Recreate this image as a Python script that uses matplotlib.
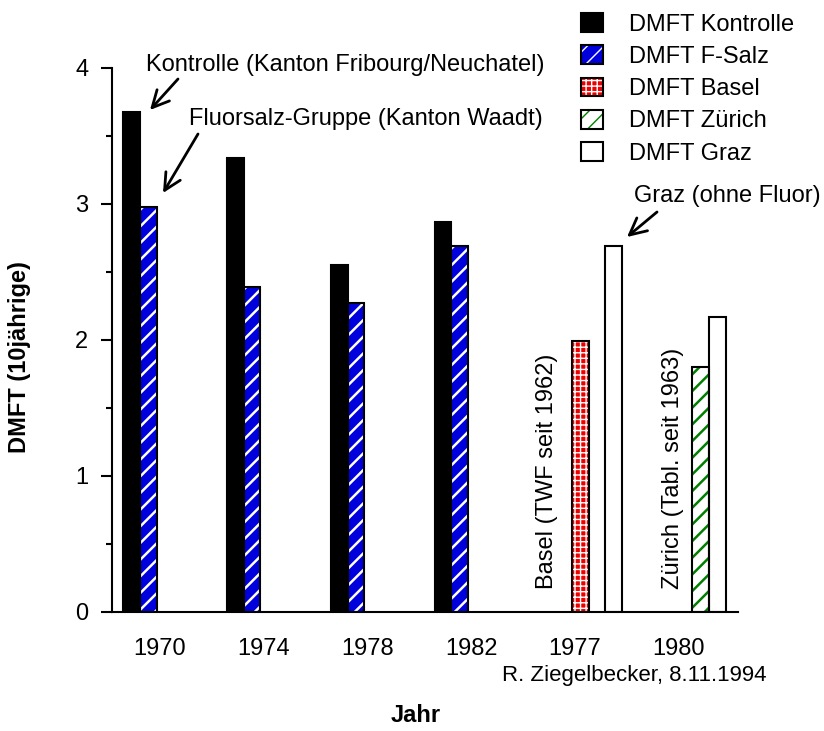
import numpy as np
import matplotlib
matplotlib.use('Agg')
import matplotlib.pyplot as plt
from matplotlib.patches import Patch
from matplotlib.legend_handler import HandlerTuple

plt.rcParams['font.family'] = ['Liberation Sans', 'DejaVu Sans']

# ---------------- data ----------------
years = ['1970', '1974', '1978', '1982', '1977', '1980']
series_names = ['DMFT Kontrolle', 'DMFT F-Salz', 'DMFT Basel', 'DMFT Zürich', 'DMFT Graz']
kontrolle = [3.68, 3.34, 2.55, 2.87, np.nan, np.nan]
fsalz = [2.98, 2.39, 2.27, 2.69, np.nan, np.nan]
basel = [np.nan, np.nan, np.nan, np.nan, 1.99, np.nan]
zuerich = [np.nan, np.nan, np.nan, np.nan, np.nan, 1.80]
graz = [np.nan, np.nan, np.nan, np.nan, 2.69, 2.17]
series = [kontrolle, fsalz, basel, zuerich, graz]

# (facecolor, hatch, hatchcolor, hatch linewidth)
styles = [
    ('black', None, 'black', 1.0),
    ('#0000dd', '//', 'white', 1.8),
    ('#ee0000', '+++', 'white', 1.0),
    ('white', '//', '#008000', 1.8),
    ('white', None, 'black', 1.0),
]

W, H = 824, 731
FS = 17
fig = plt.figure(figsize=(W / 100, H / 100), dpi=100)


def fp(x, y):
    return (x / W, 1 - y / H)


ax = fig.add_axes([112 / W, 1 - 612 / H, (738 - 112) / W, (612 - 68) / H])

x = np.arange(len(years))
bw = 0.16
shift = 0.05
handles = []
for k, (vals, (fc, hatch, hc, hlw)) in enumerate(zip(series, styles)):
    vals = np.array(vals, dtype=float)
    m = ~np.isnan(vals)
    pos = x[m] + (k - 2) * bw + shift
    with plt.rc_context({'hatch.linewidth': hlw}):
        ax.bar(pos, vals[m], width=bw, color=fc, hatch=hatch, edgecolor=hc,
               linewidth=0, zorder=2)
        p1 = Patch(facecolor=fc, hatch=hatch, edgecolor=hc, linewidth=0)
    ax.bar(pos, vals[m], width=bw, fill=False, edgecolor='black',
           linewidth=1.5, zorder=3)
    p2 = Patch(fill=False, edgecolor='black', linewidth=1.5)
    handles.append((p1, p2))

ax.set_xlim(-0.46, 5.57)
ax.set_ylim(0, 4)
ax.set_xticks(x)
ax.set_xticklabels(years, fontsize=FS)
ax.set_yticks([0, 1, 2, 3, 4])
ax.set_yticks([0.5, 1.5, 2.5, 3.5], minor=True)
ax.tick_params(axis='y', which='major', length=8, width=1.5, direction='out', labelsize=FS, pad=9)
ax.tick_params(axis='y', which='minor', length=4, width=1.5, direction='out')
ax.tick_params(axis='x', length=0, pad=19)
for s in ['top', 'right']:
    ax.spines[s].set_visible(False)
for s in ['left', 'bottom']:
    ax.spines[s].set_linewidth(1.5)

# legend
fig.legend(handles, series_names, handler_map={tuple: HandlerTuple(ndivide=1)},
           loc='upper left', bbox_to_anchor=fp(581, 13), frameon=False,
           fontsize=FS, handlelength=0.95, handleheight=0.85, handletextpad=1.1,
           labelspacing=0.41, borderpad=0, borderaxespad=0)

# annotations
arrow = dict(arrowstyle='->,head_length=1.2,head_width=0.6', lw=2, color='black',
             shrinkA=0, shrinkB=0, mutation_scale=10)
fig.text(*fp(146, 65), 'Kontrolle (Kanton Fribourg/Neuchatel)', fontsize=FS, ha='left', va='center')
ax.annotate('', xy=fp(150, 110), xytext=fp(178, 79), xycoords='figure fraction',
            textcoords='figure fraction', arrowprops=arrow)
fig.text(*fp(189, 119), 'Fluorsalz-Gruppe (Kanton Waadt)', fontsize=FS, ha='left', va='center')
ax.annotate('', xy=fp(163, 193), xytext=fp(198, 134), xycoords='figure fraction',
            textcoords='figure fraction', arrowprops=arrow)
fig.text(*fp(634, 196), 'Graz (ohne Fluor)', fontsize=FS, ha='left', va='center')
ax.annotate('', xy=fp(627, 237), xytext=fp(657, 212), xycoords='figure fraction',
            textcoords='figure fraction', arrowprops=arrow)

fig.text(*fp(547, 471), 'Basel (TWF seit 1962)', fontsize=FS, rotation=90, ha='center', va='center')
fig.text(*fp(673, 468), 'Zürich (Tabl. seit 1963)', fontsize=FS, rotation=90, ha='center', va='center')

fig.text(*fp(502, 676), 'R. Ziegelbecker, 8.11.1994', fontsize=16, ha='left', va='center')
fig.text(*fp(416, 716), 'Jahr', fontsize=FS, fontweight='bold', ha='center', va='center')
fig.text(*fp(20, 357), 'DMFT (10jährige)', fontsize=FS, fontweight='bold', rotation=90,
         ha='center', va='center')

fig.savefig('out.png', dpi=100)
